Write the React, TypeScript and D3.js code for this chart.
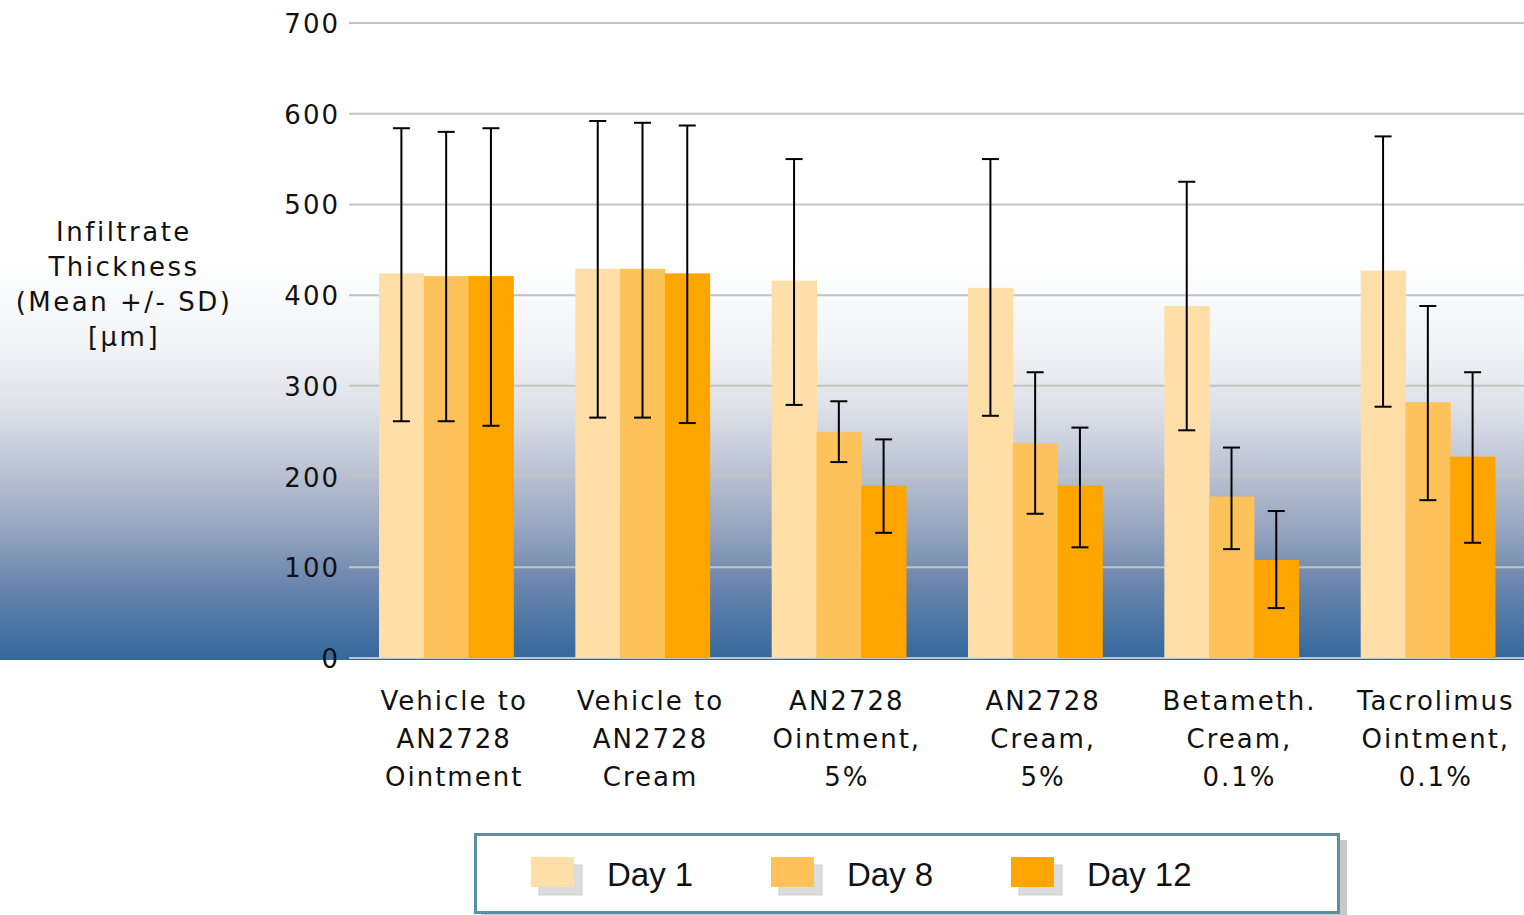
import React, { useEffect, useRef } from 'react';
import * as d3 from 'd3';

const groups = [
  ['Vehicle to', 'AN2728', 'Ointment'],
  ['Vehicle to', 'AN2728', 'Cream'],
  ['AN2728', 'Ointment,', '5%'],
  ['AN2728', 'Cream,', '5%'],
  ['Betameth.', 'Cream,', '0.1%'],
  ['Tacrolimus', 'Ointment,', '0.1%'],
];
const seriesNames = ['Day 1', 'Day 8', 'Day 12'];
const seriesColors = ['#ffdfa7', '#fec25b', '#ffa500'];

// mean values per group, [day1, day8, day12]
const means = [
  [424, 421, 421],
  [429, 429, 424],
  [416, 249, 190],
  [408, 237, 190],
  [388, 178, 108],
  [427, 282, 222],
];
// error bar ends (mean +/- SD)
const errHigh = [
  [584, 580, 584],
  [592, 590, 587],
  [550, 283, 241],
  [550, 315, 254],
  [525, 232, 162],
  [575, 388, 315],
];
const errLow = [
  [261, 261, 256],
  [265, 265, 259],
  [279, 216, 138],
  [267, 159, 122],
  [251, 120, 55],
  [277, 174, 127],
];
const yTicks = [0, 100, 200, 300, 400, 500, 600, 700];
const yTitle = ['Infiltrate', 'Thickness', '(Mean +/- SD)', '[µm]'];

export default function App() {
  const svgRef = useRef<SVGSVGElement>(null);
  const width = 1524;
  const height = 915;

  useEffect(() => {
    const svg = d3.select(svgRef.current).attr('width', width).attr('height', height);
    svg.selectAll('*').remove();

    const font = 'DejaVu Sans, Verdana, sans-serif';

    const y = d3.scaleLinear().domain([0, 700]).range([658, 23]);
    const x0 = d3.scaleBand<number>()
      .domain(d3.range(groups.length))
      .range([348, 1526])
      .paddingInner(0.316)
      .paddingOuter(0.158);
    const x1 = d3.scaleBand<number>()
      .domain(d3.range(seriesNames.length))
      .range([0, x0.bandwidth()]);

    // background gradient
    const defs = svg.append('defs');
    const grad = defs.append('linearGradient')
      .attr('id', 'bg').attr('x1', 0).attr('y1', 0).attr('x2', 0).attr('y2', 1);
    [
      [0, '#ffffff'], [0.39, '#ffffff'], [0.52, '#f3f4f7'], [0.62, '#dde0e8'],
      [0.72, '#b8c0d1'], [0.8, '#97a6bf'], [0.88, '#6d87ae'], [1, '#33679b'],
    ].forEach(([o, c]) => grad.append('stop').attr('offset', o as number).attr('stop-color', c as string));

    svg.append('rect')
      .attr('x', 0).attr('y', 0).attr('width', width).attr('height', 660)
      .attr('fill', 'url(#bg)');

    // grid + y ticks
    const g = svg.append('g');
    g.selectAll('line.grid')
      .data(yTicks)
      .enter()
      .append('line')
      .attr('x1', 349).attr('x2', 1524)
      .attr('y1', d => y(d)).attr('y2', d => y(d))
      .attr('stroke', '#c3c3c3').attr('stroke-width', 2);

    g.selectAll('text.tick')
      .data(yTicks)
      .enter()
      .append('text')
      .attr('x', 340)
      .attr('y', d => y(d) + 10)
      .attr('text-anchor', 'end')
      .attr('font-family', font)
      .attr('font-size', 26)
      .attr('letter-spacing', 2)
      .attr('fill', '#111')
      .text(d => d);

    // y title
    const yt = svg.append('text')
      .attr('text-anchor', 'middle')
      .attr('font-family', font)
      .attr('font-size', 26)
      .attr('letter-spacing', 2.5)
      .attr('fill', '#111');
    yTitle.forEach((t, i) => {
      yt.append('tspan').attr('x', 124).attr('y', 241 + i * 35).text(t);
    });

    // bars
    const gg = svg.selectAll('g.grp')
      .data(groups)
      .enter()
      .append('g')
      .attr('transform', (d, i) => `translate(${x0(i)},0)`);

    gg.selectAll('rect')
      .data((d, i) => means[i].map((v, j) => ({ v, j })))
      .enter()
      .append('rect')
      .attr('x', d => x1(d.j)!)
      .attr('y', d => y(d.v))
      .attr('width', x1.bandwidth() + 0.5)
      .attr('height', d => y(0) - y(d.v))
      .attr('fill', d => seriesColors[d.j]);

    // error bars
    const eb = gg.selectAll('g.err')
      .data((d, i) => means[i].map((v, j) => ({ hi: errHigh[i][j], lo: errLow[i][j], j })))
      .enter()
      .append('g')
      .attr('stroke', '#000')
      .attr('stroke-width', 2);
    const cx = (d: any) => x1(d.j)! + x1.bandwidth() / 2;
    eb.append('line')
      .attr('x1', cx).attr('x2', cx)
      .attr('y1', d => y(d.hi)).attr('y2', d => y(d.lo));
    eb.append('line')
      .attr('x1', d => cx(d) - 8.5).attr('x2', d => cx(d) + 8.5)
      .attr('y1', d => y(d.hi)).attr('y2', d => y(d.hi));
    eb.append('line')
      .attr('x1', d => cx(d) - 8.5).attr('x2', d => cx(d) + 8.5)
      .attr('y1', d => y(d.lo)).attr('y2', d => y(d.lo));

    // x labels
    gg.append('text')
      .attr('text-anchor', 'middle')
      .attr('font-family', font)
      .attr('font-size', 26)
      .attr('letter-spacing', 2)
      .attr('fill', '#111')
      .each(function (d) {
        const t = d3.select(this);
        (d as string[]).forEach((line, k) => {
          t.append('tspan').attr('x', x0.bandwidth() / 2 + 8).attr('y', 710 + k * 38).text(line);
        });
      });

    // legend
    const lg = svg.append('g');
    lg.append('rect')
      .attr('x', 481).attr('y', 840).attr('width', 866).attr('height', 80)
      .attr('fill', '#c8c8c8');
    lg.append('rect')
      .attr('x', 475.5).attr('y', 834.5).attr('width', 863).attr('height', 78)
      .attr('fill', '#fff').attr('stroke', '#5f8ea4').attr('stroke-width', 3);

    const items = lg.selectAll('g.item')
      .data(seriesNames)
      .enter()
      .append('g')
      .attr('transform', (d, i) => `translate(${531 + i * 240},857)`);
    items.append('rect')
      .attr('x', 8).attr('y', 8).attr('width', 43).attr('height', 30)
      .attr('fill', '#dcdcdc').attr('stroke', '#cfcfcf');
    items.append('rect')
      .attr('width', 43).attr('height', 30)
      .attr('fill', (d, i) => seriesColors[i]);
    items.append('text')
      .attr('x', 76).attr('y', 29)
      .attr('font-family', 'Liberation Sans Narrow, Liberation Sans, Arial, sans-serif')
      .attr('font-size', 33)
      .attr('fill', '#111')
      .text(d => d);
  }, []);

  return (
    <div style={{ position: 'absolute', left: 0, top: 0 }}>
      <svg ref={svgRef}></svg>
    </div>
  );
}
